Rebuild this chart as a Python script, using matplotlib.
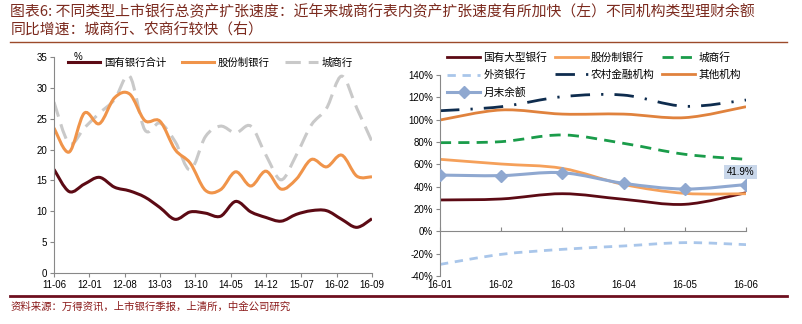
import numpy as np
import matplotlib.pyplot as plt
from matplotlib.path import Path
from matplotlib.patches import PathPatch
from matplotlib.lines import Line2D

plt.rcParams['font.family'] = ['Liberation Sans', 'Noto Sans CJK SC', 'DejaVu Sans']
CJK = ['Noto Sans CJK SC', 'DejaVu Sans']

# ---- left chart data: total asset growth, % yoy (quarterly) ----
left_dates = ["11-06", "11-09", "11-12", "12-03", "12-06", "12-09", "12-12", "13-03",
              "13-06", "13-09", "13-12", "14-03", "14-06", "14-09", "14-12", "15-03",
              "15-06", "15-09", "15-12", "16-03", "16-06", "16-09"]
state_banks = [16.8, 13.2, 14.4, 15.5, 13.9, 13.3, 12.3, 10.6, 8.7, 9.9, 9.7,
               9.2, 11.6, 9.9, 9.0, 8.4, 9.5, 10.1, 10.1, 8.7, 7.4, 8.8]
joint_stock = [23.5, 19.6, 25.9, 24.2, 28.4, 29.0, 24.7, 24.6, 20.0, 17.8, 13.4,
               13.5, 16.4, 14.1, 16.5, 13.6, 15.2, 18.4, 17.2, 19.1, 15.7, 15.6]
city_banks = [27.7, 21.0, 23.5, 25.9, 28.1, 31.9, 23.2, 24.3, 21.3, 16.7, 22.1,
              23.8, 22.7, 23.8, 19.1, 15.1, 19.1, 24.0, 26.7, 31.9, 26.7, 21.3]
left_ticks = ["11-06", "12-01", "12-08", "13-03", "13-10", "14-05", "14-12",
              "15-07", "16-02", "16-09"]

# ---- right chart data: WMP balance growth by institution, % yoy ----
right_months = ["16-01", "16-02", "16-03", "16-04", "16-05", "16-06"]
r_state = [28.1, 29.0, 33.7, 28.7, 24.2, 34.6]
r_joint = [64.5, 60.3, 56.4, 42.0, 34.0, 33.7]
r_city = [79.4, 80.3, 86.3, 78.8, 69.0, 64.5]
r_foreign = [-29.6, -20.6, -16.1, -13.1, -10.1, -11.9]
r_rural = [108.0, 111.6, 120.6, 122.0, 112.0, 117.6]
r_other = [99.7, 108.7, 105.0, 105.0, 101.8, 111.6]
r_total = [50.4, 49.9, 52.5, 43.0, 37.9, 41.9]


def month_index(s):
    yy, mm = s.split("-")
    return (int(yy) - 11) * 12 + int(mm) - 6


def smooth(ax, x, y, **kw):
    # excel-like smoothed line as a cubic bezier path
    pts = np.column_stack([x, y]).astype(float)
    verts, codes = [pts[0]], [Path.MOVETO]
    n = len(pts)
    for i in range(n - 1):
        p0 = pts[max(i - 1, 0)]
        p1, p2 = pts[i], pts[i + 1]
        p3 = pts[min(i + 2, n - 1)]
        verts += [p1 + (p2 - p0) / 6, p2 - (p3 - p1) / 6, p2]
        codes += [Path.CURVE4] * 3
    ax.add_patch(PathPatch(Path(verts, codes), fill=False, capstyle='butt', **kw))


fig = plt.figure(figsize=(8.02, 3.24), dpi=100)

title_color = '#7b2a1e'
fig.text(0.013, 0.962, "图表6: 不同类型上市银行总资产扩张速度：近年来城商行表内资产扩张速度有所加快（左）不同机构类型理财余额",
         family=CJK, fontsize=10.7, color=title_color, va='center')
fig.text(0.013, 0.905, "同比增速：城商行、农商行较快（右）",
         family=CJK, fontsize=10.7, color=title_color, va='center')
fig.add_artist(Line2D([0.013, 0.981], [0.871, 0.871], color='#9c4a2a', lw=1.0))
fig.add_artist(Line2D([0.013, 0.981], [0.086, 0.086], color='#6e0f1f', lw=2.0))
fig.text(0.013, 0.052, "资料来源：万得资讯，上市银行季报，上清所，中金公司研究",
         family=CJK, fontsize=7.5, color='#8b1a1a', va='center')

# ---------------- left chart ----------------
axl = fig.add_axes([0.0673, 0.1574, 0.3965, 0.6666])
lx = [month_index(d) for d in left_dates]
c_state, c_joint, c_city = '#5c0a14', '#f0944a', '#c9c9c9'
smooth(axl, lx, city_banks, edgecolor=c_city, lw=2.2, linestyle=(0, (5, 2.6)))
smooth(axl, lx, joint_stock, edgecolor=c_joint, lw=2.2)
smooth(axl, lx, state_banks, edgecolor=c_state, lw=2.2)
axl.set_xlim(0, 63)
axl.set_ylim(0, 35)
axl.set_yticks(range(0, 36, 5))
axl.set_xticks([month_index(t) for t in left_ticks])
axl.set_xticklabels(left_ticks)
for s in ['top', 'right']:
    axl.spines[s].set_visible(False)
for s in ['left', 'bottom']:
    axl.spines[s].set_color('#888888')
    axl.spines[s].set_linewidth(0.8)
axl.tick_params(axis='both', labelsize=7, color='#888888', length=3, width=0.8, pad=2)
axl.text(0.075, 0.975, "%", transform=axl.transAxes, fontsize=7, ha='center', va='bottom')
hl = [Line2D([], [], color=c_state, lw=2.2),
      Line2D([], [], color=c_joint, lw=2.2),
      Line2D([], [], color=c_city, lw=2.2, linestyle=(0, (5, 2.6)))]
axl.legend(hl, ["国有银行合计", "股份制银行", "城商行"], ncol=3, frameon=False,
           loc='upper left', bbox_to_anchor=(0.044, 0.997), borderpad=0, borderaxespad=0,
           handlelength=3.1, handletextpad=0.35, columnspacing=1.5,
           prop={'family': CJK, 'size': 7.5})

# ---------------- right chart ----------------
axr = fig.add_axes([0.5486, 0.1481, 0.3816, 0.6204])
rx = np.arange(len(right_months))
c_rstate, c_rjoint, c_rcity = '#5c0a14', '#f5a05a', '#1a9c4a'
c_rforeign, c_rrural, c_rother, c_rtotal = '#a9c6ea', '#0e2c4e', '#e0823d', '#8fa8d0'
st = dict(
    state=dict(edgecolor=c_rstate, lw=2.0),
    joint=dict(edgecolor=c_rjoint, lw=2.0),
    city=dict(edgecolor=c_rcity, lw=2.0, linestyle=(0, (4, 2.6))),
    foreign=dict(edgecolor=c_rforeign, lw=2.0, linestyle=(0, (3, 2.4))),
    rural=dict(edgecolor=c_rrural, lw=2.0, linestyle=(0, (7, 4, 0.8, 4))),
    other=dict(edgecolor=c_rother, lw=2.0),
)
smooth(axr, rx, r_foreign, **st['foreign'])
smooth(axr, rx, r_rural, **st['rural'])
smooth(axr, rx, r_other, **st['other'])
smooth(axr, rx, r_city, **st['city'])
smooth(axr, rx, r_state, **st['state'])
smooth(axr, rx, r_joint, **st['joint'])
smooth(axr, rx, r_total, edgecolor=c_rtotal, lw=2.2)
axr.plot(rx, r_total, linestyle='none', marker='D', color=c_rtotal, markersize=6.5, zorder=5)
axr.annotate(f"{r_total[-1]:.1f}%", (rx[-1], r_total[-1]), xytext=(-4, 9),
             textcoords='offset points', ha='center', va='center', fontsize=7,
             bbox=dict(boxstyle='square,pad=0.25', fc='#c9d7ea', ec='none'), zorder=6)
axr.set_xlim(0, 5)
axr.set_ylim(-40, 140)
axr.set_yticks(range(-40, 141, 20))
axr.set_yticklabels([f"{v}%" for v in range(-40, 141, 20)])
axr.set_xticks(rx)
axr.set_xticklabels(right_months)
for s in ['top', 'right', 'bottom']:
    axr.spines[s].set_visible(False)
axr.spines['left'].set_color('#888888')
axr.spines['left'].set_linewidth(0.8)
axr.tick_params(axis='y', labelsize=7, color='#888888', length=3, width=0.8, pad=2)
axr.tick_params(axis='x', labelsize=7, length=0, pad=3)
zero = axr.secondary_xaxis(40 / 180)
zero.set_xticks(rx)
zero.set_xticklabels([])
zero.spines['bottom'].set_color('#888888')
zero.spines['bottom'].set_linewidth(0.8)
zero.tick_params(axis='x', direction='in', length=3, color='#888888', width=0.8)

hr = [Line2D([], [], color=c_rstate, lw=2.0),
      Line2D([], [], color=c_rforeign, lw=2.0, linestyle=(0, (3, 2.4))),
      Line2D([], [], color=c_rtotal, lw=2.2, marker='D', markersize=6),
      Line2D([], [], color=c_rjoint, lw=2.0),
      Line2D([], [], color=c_rrural, lw=2.0, linestyle=(0, (7, 4, 0.8, 4))),
      Line2D([], [], color=c_rcity, lw=2.0, linestyle=(0, (4, 2.6))),
      Line2D([], [], color=c_rother, lw=2.0)]
lr = ["国有大型银行", "外资银行", "月末余额", "股份制银行", "农村金融机构", "城商行", "其他机构"]
axr.legend(hr, lr, ncol=3, frameon=False, loc='upper left', bbox_to_anchor=(0.023, 1.115),
           borderpad=0, borderaxespad=0, handlelength=3.1, handletextpad=0.3,
           columnspacing=0.7, labelspacing=0.65, prop={'family': CJK, 'size': 7.7})

fig.savefig("out.png", dpi=100)
